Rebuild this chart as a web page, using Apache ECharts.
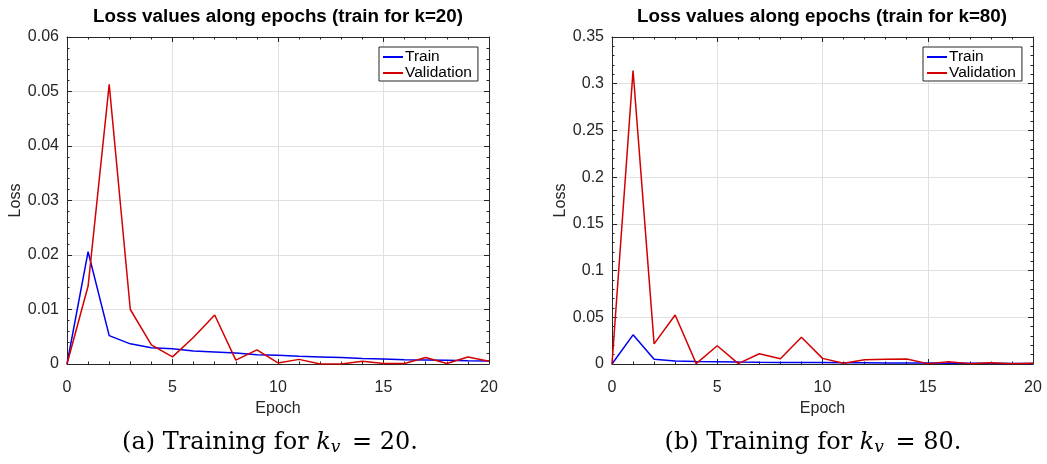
<!DOCTYPE html>
<html>
<head>
<meta charset="utf-8">
<script src="https://cdn.jsdelivr.net/npm/echarts@6/dist/echarts.min.js"></script>
<style>
  html, body { margin: 0; padding: 0; background: #fff; }
  #chart { width: 1047px; height: 464px; }
</style>
</head>
<body>
<div id="chart"></div>
<script>
// epochs 0..20
var epochs = [0, 1, 2, 3, 4, 5, 6, 7, 8, 9, 10, 11, 12, 13, 14, 15, 16, 17, 18, 19, 20]

// k=20
var train20 = [0, 0.0206, 0.0052, 0.0037, 0.0030, 0.0028, 0.0024, 0.0022, 0.0020, 0.0017, 0.0016,
    0.0014, 0.0013, 0.0012, 0.0010, 0.0009, 0.0008, 0.00073, 0.00067, 0.0006, 0.00055]
var valid20 = [0, 0.0143, 0.0513, 0.0100, 0.0035, 0.0013, 0.0049, 0.0090, 0.0007, 0.0026, 0.0002,
    0.00085, 0, 0, 0.0005, 0.0001, 0.0001, 0.0012, 0.0001, 0.0013, 0.0005]

// k=80
var train80 = [0, 0.0312, 0.0050, 0.0032, 0.0028, 0.0025, 0.0021, 0.0018, 0.0017, 0.0016, 0.0015,
    0.0014, 0.0013, 0.0012, 0.0011, 0.0010, 0.0009, 0.0008, 0.0007, 0.0006, 0.0005]
var valid80 = [0, 0.314, 0.0216, 0.0525, 0.0004, 0.0195, 0.0004, 0.0110, 0.0057, 0.0287, 0.0060,
    0.0007, 0.0046, 0.0050, 0.0053, 0.0004, 0.0025, 0.0004, 0.0014, 0.0004, 0.0007]

var titles = ['Loss values along epochs (train for k=20)', 'Loss values along epochs (train for k=80)']
var captions = [['(a) Training for ', '20.'], ['(b) Training for ', '80.']]
var yMax = [0.06, 0.35]
var yStep = [0.01, 0.05]

var dark = '#262626'
var font = 'Liberation Sans'
var grids = [
    { left: 67, top: 37, width: 422, height: 327 },
    { left: 612, top: 37, width: 421, height: 327 }
]

function pairs(ys) {
    return epochs.map(function (x, i) { return [x, ys[i]] })
}

function yLabel(v) {
    return String(parseFloat(v.toFixed(4)))
}

var xAxes = [], yAxes = []
grids.forEach(function (g, i) {
    var base = {
        gridIndex: i, type: 'value', min: 0, max: 20, interval: 5,
        axisLine: { show: true, onZero: false, lineStyle: { color: dark, width: 1 } },
        axisTick: { show: true, inside: true, length: 5, lineStyle: { color: dark } },
        minorTick: { show: true, splitNumber: 5, length: 2.5, lineStyle: { color: dark } }
    }
    xAxes.push(Object.assign({}, base, {
        position: 'bottom',
        name: 'Epoch', nameLocation: 'middle', nameGap: 28,
        nameTextStyle: { color: dark, fontSize: 16, fontFamily: font },
        axisLabel: { color: dark, fontSize: 16, fontFamily: font, margin: 16 },
        splitLine: { show: true, lineStyle: { color: '#e0e0e0' } }
    }))
    xAxes.push(Object.assign({}, base, {
        position: 'top', axisLabel: { show: false }, splitLine: { show: false }
    }))
    var ybase = {
        gridIndex: i, type: 'value', min: 0, max: yMax[i], interval: yStep[i],
        axisLine: { show: true, onZero: false, lineStyle: { color: dark, width: 1 } },
        axisTick: { show: true, inside: true, length: 5, lineStyle: { color: dark } },
        minorTick: { show: true, splitNumber: 5, length: 2.5, lineStyle: { color: dark } }
    }
    yAxes.push(Object.assign({}, ybase, {
        position: 'left',
        name: 'Loss', nameLocation: 'middle', nameGap: 42,
        nameTextStyle: { color: dark, fontSize: 16, fontFamily: font },
        axisLabel: { color: dark, fontSize: 16, fontFamily: font, margin: 8, formatter: yLabel },
        splitLine: { show: true, lineStyle: { color: '#e0e0e0' } }
    }))
    yAxes.push(Object.assign({}, ybase, {
        position: 'right', axisLabel: { show: false }, splitLine: { show: false }
    }))
})

function lineSeries(name, color, data, i) {
    return {
        name: name, type: 'line', xAxisIndex: i * 2, yAxisIndex: i * 2,
        data: pairs(data), symbol: 'none', showSymbol: false,
        lineStyle: { color: color, width: 1.5 }, itemStyle: { color: color }
    }
}

var blue = '#0000f0'
var red = '#d40000'

var legendBase = {
    orient: 'vertical', top: 47, padding: [2, 6, 0, 4], itemGap: 0,
    icon: 'rect', itemWidth: 20, itemHeight: 2,
    backgroundColor: '#fff', borderColor: dark, borderWidth: 1, borderRadius: 0,
    textStyle: { color: '#000', fontSize: 15.5, fontFamily: font, padding: [0, 0, 0, -3] },
    data: ['Train', 'Validation']
}

var graphics = []
var titleX = [278, 822]
var capX = [270, 813]
titles.forEach(function (t, i) {
    graphics.push({
        type: 'text', x: titleX[i], y: 17,
        style: { text: t, textAlign: 'center', textVerticalAlign: 'middle',
            font: 'bold 18.8px "Liberation Sans"', fill: '#000' }
    })
    graphics.push({
        type: 'text', x: capX[i], y: 443,
        style: {
            text: '{n|' + captions[i][0] + '}{i|k}{s|v}{n| = ' + captions[i][1] + '}',
            textAlign: 'center', textVerticalAlign: 'middle',
            rich: {
                n: { fontFamily: 'DejaVu Serif', fontSize: 24, fill: '#000' },
                i: { fontFamily: 'DejaVu Serif', fontSize: 24, fontStyle: 'italic', fill: '#000' },
                s: { fontFamily: 'DejaVu Serif', fontSize: 17, fontStyle: 'italic', fill: '#000', padding: [10, 4, 0, 0] }
            }
        }
    })
})

var option = {
    animation: false,
    backgroundColor: '#fff',
    grid: grids,
    xAxis: xAxes,
    yAxis: yAxes,
    legend: [
        Object.assign({}, legendBase, { left: 379 }),
        Object.assign({}, legendBase, { left: 923 })
    ],
    graphic: graphics,
    series: [
        lineSeries('Train', blue, train20, 0),
        lineSeries('Validation', red, valid20, 0),
        lineSeries('Train', blue, train80, 1),
        lineSeries('Validation', red, valid80, 1)
    ]
}

var myChart = echarts.init(document.getElementById('chart'))
myChart.setOption(option)
</script>
</body>
</html>
